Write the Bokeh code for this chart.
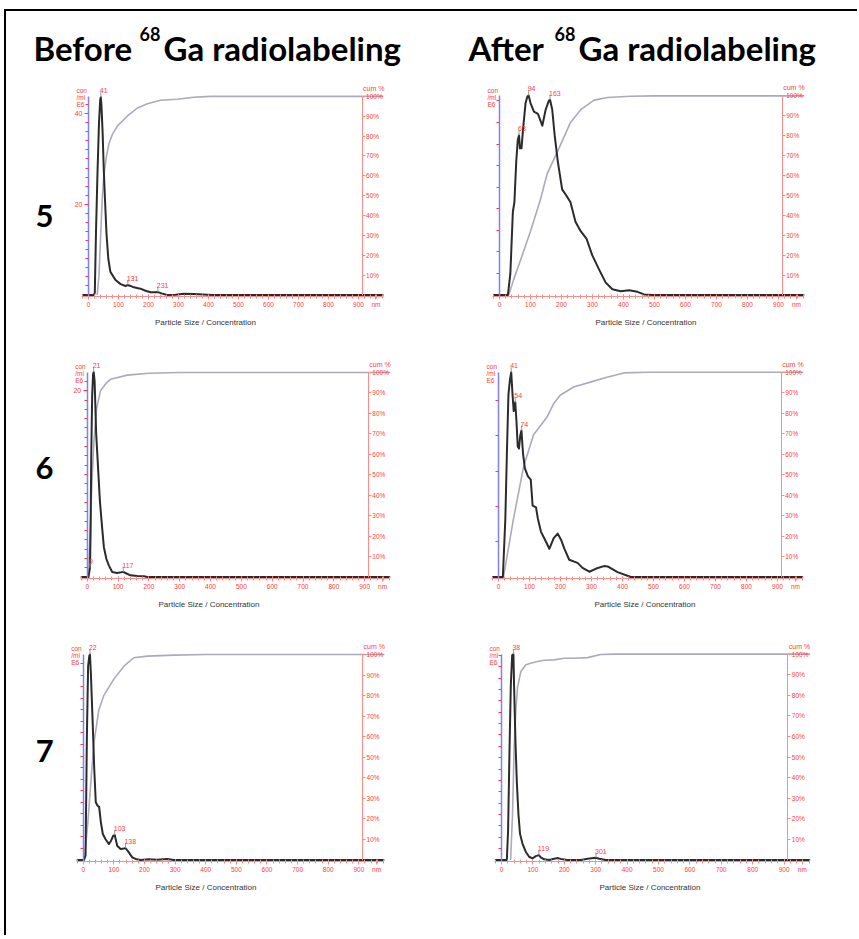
from bokeh.plotting import figure
from bokeh.layouts import column, row
from bokeh.models import (Range1d, LinearAxis, Label, ColumnDataSource, FixedTicker,
                          PrintfTickFormatter)
from bokeh.core.properties import value
from bokeh.embed import file_html
from bokeh.resources import INLINE
import math

# ------------------------------------------------------------------ data
col_titles = ["Before", "After"]
title_rest = "Ga radiolabeling"
isotope = "68"
row_names = ["5", "6", "7"]

x_ticks = [0, 100, 200, 300, 400, 500, 600, 700, 800, 900]
pct_ticks = [10, 20, 30, 40, 50, 60, 70, 80, 90, 100]

# sample 5, before labeling
b5_size = [-21, 18, 21, 25, 30, 35, 39, 41, 43, 47, 51, 55, 60, 66, 73, 90, 107, 123, 131, 140,
           151, 173, 190, 207, 220, 231, 246, 262, 290, 318, 351, 396, 418, 983]
b5_conc = [0, 0, 0.5, 14, 27, 38, 43, 43.6, 42, 36, 27.5, 21, 13.5, 8, 5.1, 3.3, 2.4, 2.0, 2.2, 2.0,
           1.7, 1.4, 0.95, 0.6, 0.6, 0.65, 0.3, 0, 0.07, 0.3, 0.2, 0.07, 0, 0]
b5_cum_size = [29, 35, 40, 46, 51, 60, 68, 80, 96, 129, 162, 196, 240, 296, 351, 407, 983]
b5_cum_pct = [0, 10, 28, 49, 60, 70, 76, 81, 85, 90, 94, 96.3, 98, 98.5, 99.5, 100, 100]
b5_peak_size = [41, 131, 231]
b5_peak_conc = [43.6, 2.2, 0.65]

# sample 5, after labeling
a5_size = [-21, 27, 35, 43, 48, 54, 59, 63, 66, 71, 76, 84, 90, 94, 100, 111, 124, 138, 149, 159,
           163, 170, 178, 188, 202, 216, 229, 245, 262, 281, 299, 321, 342, 364, 391, 418, 445, 466, 493, 983]
a5_conc = [0, 0, 1.0, 3.85, 4.3, 6.2, 7.2, 7.4, 6.8, 6.8, 7.7, 8.9, 9.2, 9.25, 8.9, 8.5, 8.4, 7.85, 8.6, 9.0,
           9.05, 8.6, 7.4, 6.2, 4.9, 4.6, 4.3, 3.4, 2.96, 2.6, 1.85, 1.19, 0.59, 0.27, 0.18, 0.22, 0.15, 0.03, 0, 0]
a5_cum_size = [30, 46, 68, 100, 132, 154, 192, 229, 262, 305, 348, 423, 498, 983]
a5_cum_pct = [0, 8, 17.6, 32, 48, 61, 73.8, 86.7, 93.1, 97.9, 99.2, 99.8, 100, 100]
a5_peak_size = [63, 94, 163]
a5_peak_conc = [7.4, 9.25, 9.05]

# sample 6, before labeling
b6_size = [-21, 4, 7, 9, 11, 13, 16, 19, 21, 24, 29, 35, 41, 48, 54, 62, 70, 81, 97, 110,
           117, 124, 140, 162, 184, 195, 983]
b6_conc = [0, 0, 0.6, 1.0, 5, 13, 19.5, 21.8, 22.0, 21, 15.4, 11.8, 8.2, 5.4, 3.2, 1.96, 1.25, 0.54, 0.43, 0.5,
           0.55, 0.43, 0.18, 0.1, 0.07, 0, 0]
b6_cum_size = [4, 10, 15, 21.6, 30, 43, 60, 76, 130, 200, 300, 983]
b6_cum_pct = [0, 25, 45, 66, 82, 91, 94.5, 96.7, 98.7, 99.6, 100, 100]
b6_peak_size = [9, 21, 117]
b6_peak_conc = [1.0, 22.0, 0.55]

# sample 6, after labeling
a6_size = [-21, 14, 22, 27, 32, 37, 41, 45, 49, 54, 58, 62, 66, 70, 74, 79, 85, 95, 104, 110,
           121, 127, 137, 148, 164, 178, 191, 202, 212, 228, 255, 271, 293, 315, 340, 352, 384, 427, 983]
a6_conc = [0, 0, 1.65, 3.5, 5.17, 5.6, 5.8, 5.2, 4.7, 4.95, 4.4, 3.7, 3.64, 4.0, 4.15, 3.5, 3.08, 2.85, 2.76, 2.02,
           1.97, 1.65, 1.28, 1.09, 0.8, 1.1, 1.23, 1.05, 0.81, 0.49, 0.4, 0.26, 0.15, 0.24, 0.31, 0.3, 0.14, 0, 0]
a6_cum_size = [16, 48.5, 81, 113, 156, 178, 199, 242, 296, 350, 404, 480, 983]
a6_cum_pct = [0, 28.6, 54, 69.5, 78, 84.7, 88.8, 92.8, 95.2, 97.6, 99.7, 100, 100]
a6_peak_size = [41, 54, 74]
a6_peak_conc = [5.8, 4.95, 4.15]

# sample 7, before labeling
b7_size = [-21, 2, 7.6, 12, 16, 20, 22, 25, 30.5, 36, 41, 47, 52, 57.7, 64, 73, 84, 91, 98, 103,
           111, 122, 133, 138, 149, 160, 171, 187, 214, 241, 274, 296, 983]
b7_conc = [0, 0, 0.37, 10.7, 16.8, 17.7, 17.8, 16.2, 12.2, 7.9, 5.0, 4.7, 4.6, 3.26, 2.25, 1.8, 1.38, 1.67, 2.1, 2.16,
           1.24, 0.95, 1.0, 1.04, 0.66, 0.23, 0.09, 0, 0.06, 0.03, 0.09, 0, 0]
b7_cum_size = [4, 15, 25, 35, 51, 67, 100, 133, 165, 209, 296, 400, 983]
b7_cum_pct = [0, 18, 38, 57, 73, 80, 88, 94.3, 98.4, 99.2, 99.7, 100, 100]
b7_peak_size = [22, 103, 138]
b7_peak_conc = [17.8, 2.16, 1.04]

# sample 7, after labeling
a7_size = [-21, 17, 21, 25.5, 29.7, 34, 38, 40, 44.6, 48.8, 54, 59, 67, 77.5, 88, 98.7, 109, 119, 125, 136,
           152, 167.7, 180, 194, 210, 252.6, 274, 301, 311, 332, 983]
a7_conc = [0, 0, 2.6, 9.7, 15.4, 18, 18.1, 15.4, 10.3, 6.86, 4.0, 2.3, 1.43, 0.71, 0.29, 0.14, 0.34, 0.43, 0.23, 0.06,
           0, 0.11, 0.17, 0.06, 0, 0, 0.11, 0.2, 0.11, 0, 0]
a7_cum_size = [29, 35, 40, 45.6, 51, 61.6, 77.5, 93, 114.6, 136, 167.7, 199.5, 231, 274, 316, 359, 983]
a7_cum_pct = [0, 22, 53.7, 72.7, 83.7, 91.6, 94.8, 95.6, 96.4, 97, 97.2, 98, 98, 98.3, 99.8, 100, 100]
a7_peak_size = [38, 119, 301]
a7_peak_conc = [18.1, 0.43, 0.2]

# left-axis scale (concentration at the 100 % level) and its tick marks
b5_cmax, a5_cmax, b6_cmax, a6_cmax, b7_cmax, a7_cmax = 43.8, 9.23, 21.96, 5.8, 17.8, 18.1
b5_conc_major, b5_conc_minor = [20, 40], list(range(2, 44, 2))
a5_conc_major, a5_conc_minor = [], list(range(1, 10))
b6_conc_major, b6_conc_minor = [20], list(range(1, 22))
a6_conc_major, a6_conc_minor = [], list(range(1, 6))
b7_conc_major, b7_conc_minor = [], list(range(1, 18))
a7_conc_major, a7_conc_minor = [], list(range(1, 19))

# ------------------------------------------------------------------ style
RED = "#ff3c3c"
RED_LINE = "#ff8a8a"
BLUE = "#8080ff"
CUM = "#a9abbc"
DIST = "#2b2b2b"
FONT = "Liberation Sans"
XE = 1000
NM_POS = 958


def panel(W, H, left_pg, top_pg, frame_left_pg, x0, x900, ybase, y100, cmax,
          d_size, d_conc, c_size, c_pct, pk_size, pk_conc, c_major, c_minor, rlabel=None, rpos=None):
    ppn = (x900 - x0) / 900.0
    xs = (frame_left_pg - x0) / ppn
    fr = x0 + XE * ppn
    pxp = (ybase - y100) / 100.0
    ft = y100 - 15
    fb = ybase + 1.5
    cum_top = (ybase - ft) / pxp
    cum_bot = (ybase - fb) / pxp
    p = figure(width=W, height=H, x_range=Range1d(xs, XE),
               y_range=Range1d(cum_bot * cmax / 100.0, cum_top * cmax / 100.0),
               y_axis_location=None, toolbar_location=None, output_backend="svg",
               min_border_left=int(round(frame_left_pg - left_pg)), min_border_right=int(round(left_pg + W - fr)),
               min_border_top=int(round(ft - top_pg)), min_border_bottom=int(round(top_pg + H - fb)))
    p.extra_y_ranges = {"cum": Range1d(cum_bot, cum_top)}
    p.outline_line_color = None
    p.grid.visible = False
    p.background_fill_color = "white"
    p.border_fill_color = "white"

    # bottom axis
    xa = p.xaxis[0]
    xa.ticker = FixedTicker(ticks=x_ticks + [NM_POS], minor_ticks=list(range(-20, 981, 20)))
    xa.major_label_overrides = {NM_POS: "nm"}
    xa.bounds = (-22, 982)
    xa.axis_line_color = RED_LINE
    xa.major_tick_line_color = RED_LINE
    xa.minor_tick_line_color = RED_LINE
    xa.major_tick_in, xa.major_tick_out = 2, 3
    xa.minor_tick_in, xa.minor_tick_out = 2, 2
    xa.major_label_text_color = RED
    xa.major_label_text_font = FONT
    xa.major_label_text_font_size = "6.5px"
    xa.major_label_standoff = 1
    xa.axis_label = "Particle Size / Concentration"
    xa.axis_label_text_font = FONT
    xa.axis_label_text_font_size = "8px"
    xa.axis_label_text_font_style = "normal"
    xa.axis_label_text_color = "#333333"
    xa.axis_label_standoff = 7

    # left concentration axis (at 0 nm)
    ya = LinearAxis(fixed_location=0, bounds=(0, cmax),
                    ticker=FixedTicker(ticks=c_major, minor_ticks=c_minor))
    ya.axis_line_color = BLUE
    ya.axis_line_width = 1.5
    ya.major_tick_line_color = RED
    ya.minor_tick_line_color = RED
    ya.major_tick_in, ya.major_tick_out = 0, 4
    ya.minor_tick_in, ya.minor_tick_out = 0, 3
    ya.major_label_text_color = RED
    ya.major_label_text_font = FONT
    ya.major_label_text_font_size = "7px"
    ya.major_label_standoff = 2
    p.add_layout(ya, "left")

    # right cumulative axis
    ra = LinearAxis(y_range_name="cum", fixed_location=912, bounds=(0, 100),
                    ticker=FixedTicker(ticks=pct_ticks, minor_ticks=[]),
                    formatter=PrintfTickFormatter(format="%d%%"))
    ra.axis_line_color = RED_LINE
    ra.major_tick_line_color = RED_LINE
    ra.major_tick_in, ra.major_tick_out = 0, 3
    ra.major_label_text_color = RED
    ra.major_label_text_font = FONT
    ra.major_label_text_font_size = "6.5px"
    ra.major_label_standoff = 1
    p.add_layout(ra, "right")

    # curves
    p.line(c_size, c_pct, y_range_name="cum", line_color=CUM, line_width=1.6)
    p.line(d_size, d_conc, line_color=DIST, line_width=2.0, line_join="round")

    # peak markers
    src = ColumnDataSource(dict(x=pk_size, y=pk_conc, t=[str(s) for s in pk_size]))
    p.ray(x="x", y="y", length=5, length_units="screen", angle=math.pi / 2,
          line_color="#9a9a9a", line_width=1, source=src)
    p.text(x="x", y="y", text="t", source=src, text_align="left", text_baseline="bottom",
           x_offset=-1, y_offset=-4, text_color=RED, text_font=value(FONT), text_font_size="7px")

    # axis captions
    for txt, dy in (("con", 5.5), ("/ml", -1.5), ("E6", -8.5)):
        p.add_layout(Label(x=0, y=100, y_range_name="cum", text=txt, x_offset=-12, y_offset=dy,
                           text_align="left", text_baseline="middle", text_color=RED,
                           text_font=FONT, text_font_size="6.5px"))
    p.add_layout(Label(x=912, y=100, y_range_name="cum", text="cum %", x_offset=1, y_offset=8,
                       text_align="left", text_baseline="middle", text_color=RED,
                       text_font=FONT, text_font_size="7px"))
    if rlabel is not None:
        p.add_layout(Label(x=rpos[0], y=rpos[1], y_range_name="cum", text=rlabel,
                           text_align="center", text_baseline="middle", text_color="black",
                           text_font="Lato", text_font_style="bold", text_font_size="31px"))
    return p


# page layout (page pixel coordinates; content starts at x=6, y=11)
LW, RW = 427, 424
L0, R0 = 6, 433
TOP = 11
R1T, R1H = 70, 270
R2T, R2H = 340, 280
R3T, R3H = 620, 315
ROWLAB_EDGE = 22

tl = panel(LW, R1H, L0, R1T, ROWLAB_EDGE, 88, 358, 295, 94, b5_cmax, b5_size, b5_conc, b5_cum_size,
           b5_cum_pct, b5_peak_size, b5_peak_conc, b5_conc_major, b5_conc_minor, row_names[0], (-147, 40))
tr = panel(RW, R1H, R0, R1T, 499 - 17, 499, 777.7, 303, 95.7, a5_cmax, a5_size, a5_conc, a5_cum_size,
           a5_cum_pct, a5_peak_size, a5_peak_conc, a5_conc_major, a5_conc_minor)
ml = panel(LW, R2H, L0, R2T, ROWLAB_EDGE, 86.7, 364, 576.7, 371.7, b6_cmax, b6_size, b6_conc, b6_cum_size,
           b6_cum_pct, b6_peak_size, b6_peak_conc, b6_conc_major, b6_conc_minor, row_names[1], (-139, 53.5))
mr = panel(RW, R2H, R0, R2T, 498 - 17, 498, 776.7, 576, 368.3, a6_cmax, a6_size, a6_conc, a6_cum_size,
           a6_cum_pct, a6_peak_size, a6_peak_conc, a6_conc_major, a6_conc_minor)
bl = panel(LW, R3H, L0, R3T, ROWLAB_EDGE, 82.7, 358.3, 859.3, 653.3, b7_cmax, b7_size, b7_conc, b7_cum_size,
           b7_cum_pct, b7_peak_size, b7_peak_conc, b7_conc_major, b7_conc_minor, row_names[2], (-126, 53))
br = panel(RW, R3H, R0, R3T, 500.7 - 17, 500.7, 783.3, 865, 654, a7_cmax, a7_size, a7_conc, a7_cum_size,
           a7_cum_pct, a7_peak_size, a7_peak_conc, a7_conc_major, a7_conc_minor)

# header with column titles (coordinates: page pixels)
hdr = figure(width=LW + RW, height=R1T - TOP, x_range=Range1d(L0, L0 + LW + RW), y_range=Range1d(R1T, TOP),
             x_axis_location=None, y_axis_location=None, toolbar_location=None, output_backend="svg",
             min_border=0)
hdr.outline_line_color = None
hdr.grid.visible = False
big = dict(text_font=value("Lato"), text_font_style="bold", text_color="black", text_baseline="middle")
hdr.text(x=[33, 468], y=[47, 47], text=col_titles, text_align="left", text_font_size="33px", **big)
hdr.text(x=[139, 554], y=[33, 33], text=[isotope, isotope], text_align="left", text_font_size="18px", **big)
hdr.text(x=[163, 578], y=[47, 47], text=[title_rest, title_rest], text_align="left",
         text_font_size="33px", **big)

layout = column(hdr, row(tl, tr), row(ml, mr), row(bl, br),
                styles={"border-top": "2px solid black", "border-left": "2px solid black",
                        "margin-top": "9px", "margin-left": "4px"})

open("out.html", "w").write(file_html(layout, INLINE))
